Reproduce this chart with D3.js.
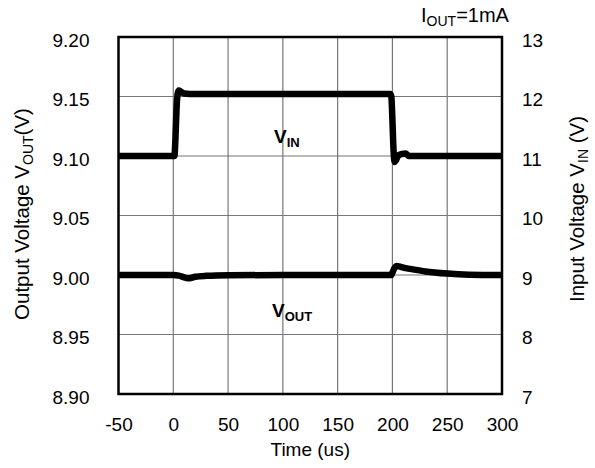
<!DOCTYPE html>
<html><head><meta charset="utf-8">
<script src="https://cdn.jsdelivr.net/npm/d3@7"></script>
<style>body{margin:0;background:#fff}svg{display:block}text{font-family:"Liberation Sans",Arial,sans-serif;fill:#000}</style>
</head><body><div id="c"></div>
<script>
const xTicks = [-50,0,50,100,150,200,250,300];
const yLeftTicks = [8.90,8.95,9.00,9.05,9.10,9.15,9.20];
const yRightTicks = [7,8,9,10,11,12,13];
const vinTime = [-50,0,1,2,3,4,5,7,10,20,50,100,150,198,199,200,201,202,203,205,208,212,215,220,250,300];
const vinVal  = [11.0,11.0,11.0,11.3,11.8,12.05,12.1,12.08,12.05,12.04,12.04,12.04,12.04,12.04,12.0,11.6,11.1,10.9,10.92,11.0,11.03,11.04,11.0,11.0,11.0,11.0];
const voutTime = [-50,0,5,10,13,16,20,30,50,100,150,199,200,202,204,206,210,220,230,250,270,300];
const voutVal  = [9.000,9.000,8.9995,8.998,8.9972,8.9975,8.9985,8.9993,8.9998,9.0000,9.0000,9.0000,9.002,9.006,9.0075,9.0072,9.0062,9.0045,9.003,9.0012,9.0003,9.0000];

const W=595,H=468, L=118.5, R=502, T=37, B=394;
const FS="19px", SUB="13px", TF="20.5px", TSUB="14px";
const svg=d3.select("#c").append("svg").attr("width",W).attr("height",H);
const x=d3.scaleLinear().domain([-50,300]).range([L,R]);
const yL=d3.scaleLinear().domain([8.90,9.20]).range([B,T]);
const yR=d3.scaleLinear().domain([7,13]).range([B,T]);

// grid
const g=svg.append("g");
g.selectAll(".vx").data(xTicks.slice(1,-1)).join("line")
 .attr("x1",d=>x(d)).attr("x2",d=>x(d)).attr("y1",T).attr("y2",B).attr("stroke","#777").attr("stroke-width",1.2);
g.selectAll(".hy").data(yLeftTicks.slice(1,-1)).join("line")
 .attr("y1",d=>yL(d)).attr("y2",d=>yL(d)).attr("x1",L).attr("x2",R).attr("stroke","#777").attr("stroke-width",1.2);

// axes
const axL=d3.axisLeft(yL).tickValues(yLeftTicks).tickFormat(d3.format(".2f")).tickSize(0).tickPadding(29);
const axR=d3.axisRight(yR).tickValues(yRightTicks).tickFormat(d=>String(d)).tickSize(0).tickPadding(20);
const axB=d3.axisBottom(x).tickValues(xTicks).tickFormat(d=>String(d)).tickSize(0).tickPadding(24);
for (const [ax,tr,vert] of [[axL,`translate(${L},0)`,true],[axR,`translate(${R},0)`,true],[axB,`translate(0,${B})`,false]]) {
  const a=svg.append("g").attr("transform",tr).call(ax);
  a.select(".domain").remove();
  a.selectAll("text").style("font-size",FS).style("font-family","Liberation Sans, Arial, sans-serif");
  if (vert) a.selectAll("text").attr("y",3);
}
svg.append("rect").attr("x",L).attr("y",T).attr("width",R-L).attr("height",B-T).attr("fill","none").attr("stroke","#000").attr("stroke-width",2.5);

// lines
const lineVin=d3.line().x((d,i)=>x(vinTime[i])).y(d=>yR(d)).curve(d3.curveMonotoneX);
const lineVout=d3.line().x((d,i)=>x(voutTime[i])).y(d=>yL(d)).curve(d3.curveMonotoneX);
svg.append("path").attr("d",lineVin(vinVal)).attr("fill","none").attr("stroke","#000").attr("stroke-width",6.5).attr("stroke-linejoin","round");
svg.append("path").attr("d",lineVout(voutVal)).attr("fill","none").attr("stroke","#000").attr("stroke-width",6.5).attr("stroke-linejoin","round");

// annotations
const t1=svg.append("text").attr("x",274).attr("y",143).style("font-size",FS).style("font-weight","bold");
t1.append("tspan").text("V");
t1.append("tspan").attr("dy",4).style("font-size",SUB).text("IN");
const t2=svg.append("text").attr("x",272).attr("y",317).style("font-size",FS).style("font-weight","bold");
t2.append("tspan").text("V");
t2.append("tspan").attr("dy",4).style("font-size",SUB).text("OUT");

const t3=svg.append("text").attr("x",421).attr("y",22).style("font-size","20px");
t3.append("tspan").text("I");
t3.append("tspan").attr("dy",4).style("font-size",TSUB).text("OUT");
t3.append("tspan").attr("dy",-4).text("=1mA");

svg.append("text").attr("x",(L+R)/2).attr("y",456).attr("text-anchor","middle").style("font-size",FS).text("Time (us)");

const yl=svg.append("text").attr("transform",`translate(29,214) rotate(-90)`).attr("text-anchor","middle").style("font-size",TF);
yl.append("tspan").text("Output Voltage V");
yl.append("tspan").attr("dy",4).style("font-size",TSUB).text("OUT");
yl.append("tspan").attr("dy",-4).text("(V)");
const yr=svg.append("text").attr("transform",`translate(584,209) rotate(-90)`).attr("text-anchor","middle").style("font-size",TF);
yr.append("tspan").text("Input Voltage V");
yr.append("tspan").attr("dy",4).style("font-size",TSUB).text("IN");
yr.append("tspan").attr("dy",-4).text(" (V)");
</script></body></html>
